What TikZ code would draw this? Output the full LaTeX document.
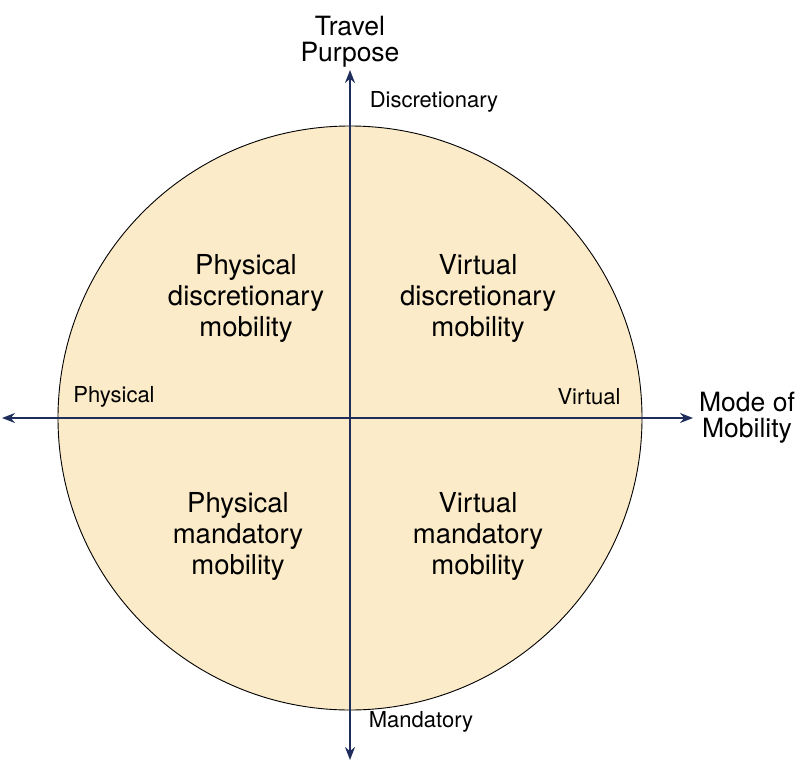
\documentclass[tikz,border=0pt]{standalone}
\usepackage{fontspec}
\setmainfont{TeX Gyre Heros}
\usetikzlibrary{arrows.meta}
\definecolor{axisblue}{HTML}{1F2D5C}
\definecolor{discfill}{HTML}{FCEBC8}
\begin{document}
\begin{tikzpicture}[x=1pt,y=-1pt,>={Stealth[length=13pt,width=10pt]},
    axis/.style={<->,line width=1.8pt,draw=axisblue},
    quad/.style={align=center,font=\fontsize{27.5}{31}\selectfont},
    endlab/.style={font=\fontsize{22}{26}\selectfont},
    title/.style={align=center,font=\fontsize{26.5}{29}\selectfont}]
  \useasboundingbox (0,0) rectangle (800,762);
  \coordinate (c) at (350,418);
  \fill[discfill] (c) circle (292);
  \draw[line width=0.9pt] (c) circle (292);

  \coordinate (top) at (350,70);
  \coordinate (bot) at (350,760);
  \coordinate (lft) at (2,418);
  \coordinate (rgt) at (693,418);
  \draw[axis] (bot) -- (top);
  \draw[axis] (lft) -- (rgt);

  \node[title] (tp) at (350,42) {Travel\\[-3pt]Purpose};
  \node[title] (mm) at (747,418) {Mode of\\[-3pt]Mobility};

  \node[endlab] (disc) at (434,102) {Discretionary};
  \node[endlab] (mand) at (421,722) {Mandatory};
  \node[endlab] (phys) at (114,397) {Physical};
  \node[endlab] (virt) at (589,397) {Virtual};

  \node[quad] (pd) at (246,298) {Physical\\discretionary\\mobility};
  \node[quad] (vd) at (478,298) {Virtual\\discretionary\\mobility};
  \node[quad] (pm) at (238,536) {Physical\\mandatory\\mobility};
  \node[quad] (vm) at (478,536) {Virtual\\mandatory\\mobility};
\end{tikzpicture}
\end{document}
